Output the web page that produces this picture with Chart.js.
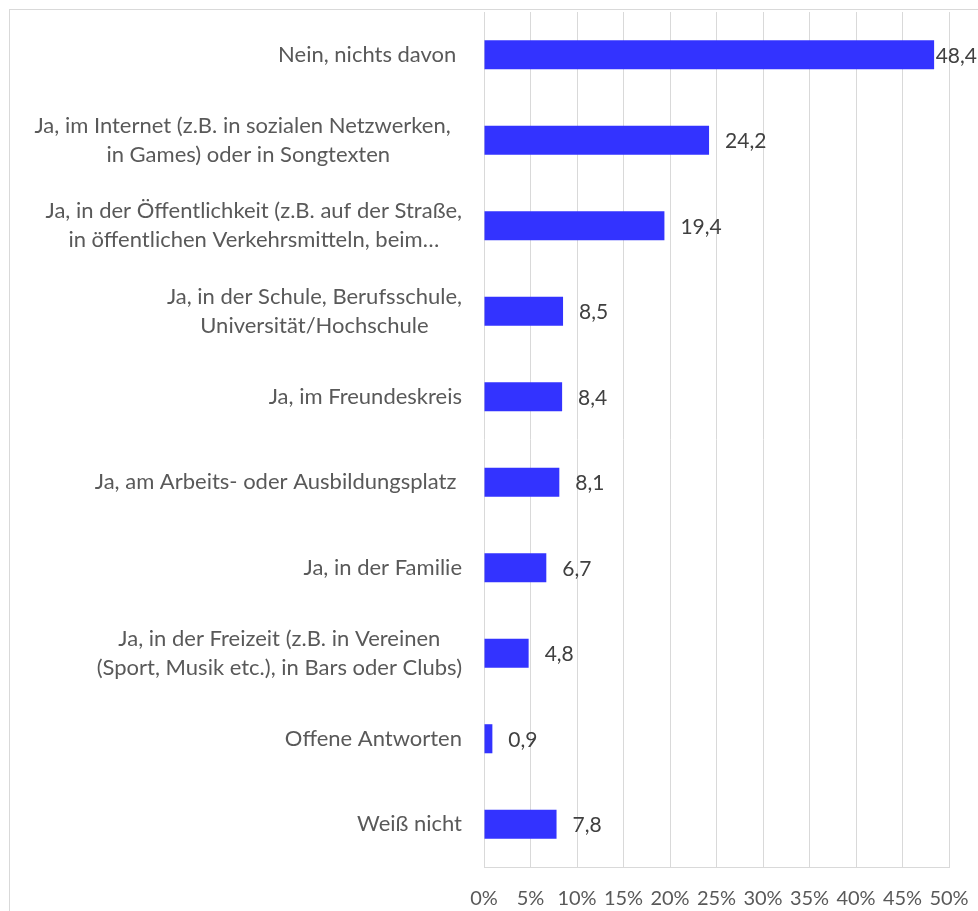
<!DOCTYPE html>
<html>
<head>
<meta charset="utf-8">
<script src="https://cdn.jsdelivr.net/npm/chart.js@4/dist/chart.umd.min.js"></script>
<style>
  html, body { margin: 0; padding: 0; background: #fff; }
  canvas { display: block; }
</style>
</head>
<body>
<canvas id="chart" width="978" height="911"></canvas>
<script>
// categories (multi-line labels as arrays), top to bottom
const categories = [
    ['Nein, nichts davon '],
    ['Ja, im Internet (z.B. in sozialen Netzwerken,  ', 'in Games) oder in Songtexten'],
    ['Ja, in der Öffentlichkeit (z.B. auf der Straße,', 'in öffentlichen Verkehrsmitteln, beim…'],
    ['Ja, in der Schule, Berufsschule,', 'Universität/Hochschule'],
    ['Ja, im Freundeskreis'],
    ['Ja, am Arbeits- oder Ausbildungsplatz '],
    ['Ja, in der Familie'],
    ['Ja, in der Freizeit (z.B. in Vereinen', '(Sport, Musik etc.), in Bars oder Clubs)'],
    ['Offene Antworten'],
    ['Weiß nicht']
];
const shares = [48.4, 24.2, 19.4, 8.5, 8.4, 8.1, 6.7, 4.8, 0.9, 7.8];
const xTickValues = [0, 5, 10, 15, 20, 25, 30, 35, 40, 45, 50];

const FONT = 'Lato, "Open Sans", sans-serif';
const GRID = '#d9d9d9';

// outer frame + white background
const framePlugin = {
    id: 'frame',
    beforeDraw(chart) {
        const ctx = chart.ctx;
        ctx.save();
        ctx.fillStyle = '#fff';
        ctx.fillRect(0, 0, chart.width, chart.height);
        ctx.strokeStyle = GRID;
        ctx.lineWidth = 1;
        ctx.strokeRect(9.5, 9.5, chart.width + 50, chart.height + 50);
        ctx.restore();
    }
};

// category labels: block right-aligned, lines centered inside the block
const categoryLabels = {
    id: 'categoryLabels',
    afterDraw(chart) {
        const ctx = chart.ctx;
        const yScale = chart.scales.y;
        const right = chart.chartArea.left - 22;
        ctx.save();
        ctx.font = '22px ' + FONT;
        ctx.fillStyle = '#595959';
        ctx.textAlign = 'center';
        ctx.textBaseline = 'middle';
        categories.forEach(function (lines, i) {
            const cy = yScale.getPixelForValue(i);
            const w = Math.max.apply(null, lines.map(l => ctx.measureText(l).width));
            const cx = right - w / 2;
            lines.forEach(function (line, j) {
                ctx.fillText(line, cx, cy + (j - (lines.length - 1) / 2) * 29);
            });
        });
        ctx.restore();
    }
};

// value labels at bar end
const valueLabels = {
    id: 'valueLabels',
    afterDatasetsDraw(chart) {
        const ctx = chart.ctx;
        const meta = chart.getDatasetMeta(0);
        ctx.save();
        ctx.font = '21px ' + FONT;
        ctx.fillStyle = '#404040';
        ctx.textAlign = 'left';
        ctx.textBaseline = 'middle';
        meta.data.forEach(function (bar, i) {
            const txt = shares[i].toFixed(1).replace('.', ',');
            const w = ctx.measureText(txt).width;
            let x = bar.x + 16;
            if (x + w > chart.width - 1) x = chart.width - 1 - w;
            ctx.fillText(txt, x, bar.y + 1);
        });
        ctx.restore();
    }
};

new Chart(document.getElementById('chart').getContext('2d'), {
    type: 'bar',
    data: {
        labels: categories,
        datasets: [{
            data: shares,
            backgroundColor: '#3333ff',
            borderWidth: 0,
            barPercentage: 0.34,
            categoryPercentage: 1
        }]
    },
    options: {
        indexAxis: 'y',
        responsive: false,
        animation: false,
        devicePixelRatio: 1,
        layout: { padding: { top: 12, right: 29, left: 0, bottom: 0 } },
        plugins: {
            legend: { display: false },
            tooltip: { enabled: false }
        },
        scales: {
            x: {
                min: 0,
                max: 50,
                afterBuildTicks: function (scale) {
                    scale.ticks = xTickValues.map(v => ({ value: v }));
                },
                afterFit: function (scale) {
                    scale.height = 44;
                    scale.paddingLeft = 0;
                    scale.paddingRight = 0;
                },
                ticks: {
                    callback: v => v + '%',
                    color: '#595959',
                    font: { family: FONT, size: 20 },
                    padding: 20,
                    maxRotation: 0,
                    autoSkip: false
                },
                grid: { color: GRID, lineWidth: 1, drawTicks: false },
                border: { display: true, color: GRID, width: 1 }
            },
            y: {
                afterFit: function (scale) { scale.width = 484; },
                ticks: { display: false },
                grid: { display: false },
                border: { display: false }
            }
        }
    },
    plugins: [framePlugin, categoryLabels, valueLabels]
});
</script>
</body>
</html>
